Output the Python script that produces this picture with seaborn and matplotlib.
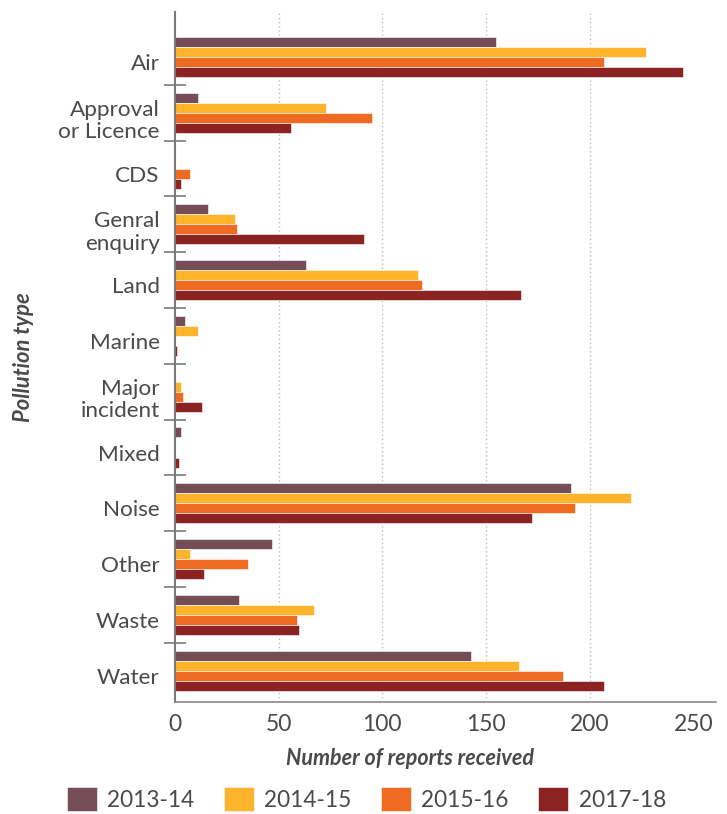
import numpy as np
import pandas as pd
import matplotlib
matplotlib.use("Agg")
import matplotlib.pyplot as plt
from matplotlib.ticker import FixedLocator
import matplotlib.transforms as mtransforms
import seaborn as sns

categories = ["Air", "Approval\nor Licence", "CDS", "Genral\nenquiry", "Land", "Marine",
              "Major\nincident", "Mixed", "Noise", "Other", "Waste", "Water"]
years = ["2013-14", "2014-15", "2015-16", "2017-18"]
v_2013_14 = [155, 11, 0, 16, 63, 5, 0, 3, 191, 47, 31, 143]
v_2014_15 = [227, 73, 0, 29, 117, 11, 3, 0, 220, 7, 67, 166]
v_2015_16 = [207, 95, 7, 30, 119, 0, 4, 0, 193, 35, 59, 187]
v_2017_18 = [245, 56, 3, 91, 167, 1, 13, 2, 172, 14, 60, 207]
x_ticks = [0, 50, 100, 150, 200, 250]

colors = ["#744D56", "#FDB42A", "#EF6B22", "#8C2323"]
text_col = "#4a4a4a"

series = [v_2013_14, v_2014_15, v_2015_16, v_2017_18]
df = pd.DataFrame({
    "type": np.tile(categories, len(years)),
    "year": np.repeat(years, len(categories)),
    "count": np.concatenate(series),
})

sns.set_theme(style="white")
plt.rcParams["font.family"] = ["Lato", "DejaVu Sans"]

fig = plt.figure(figsize=(7.27, 8.14), dpi=100)
ax = fig.add_axes([0.2407, 0.1376, 0.7443, 0.848])

sns.barplot(data=df, y="type", x="count", hue="year", order=categories,
            hue_order=years, palette=colors, orient="h", width=0.72,
            saturation=1, ax=ax, legend=True)
for p in ax.patches:
    p.set_edgecolor("white")
    p.set_linewidth(0.4)

ax.set_xlim(0, 261)
ax.set_ylim(len(categories) - 0.44, -0.81)
ax.set_xticks(x_ticks)
ax.set_xticklabels([str(t) for t in x_ticks])

ax.grid(axis="x", linestyle=(0, (1, 2)), color="#bbbbbb", linewidth=1.0)
ax.grid(axis="y", visible=False)
ax.set_axisbelow(True)
ax.xaxis.get_gridlines()[0].set_visible(False)
ax.xaxis.get_gridlines()[-1].set_visible(False)

for side in ["top", "right"]:
    ax.spines[side].set_visible(False)
ax.spines["left"].set_color("#7a7a7a")
ax.spines["left"].set_linewidth(1.5)
ax.spines["bottom"].set_color("#8a8a8a")
ax.spines["bottom"].set_linewidth(1.2)

ax.tick_params(axis="x", length=0, pad=9, labelsize=16.5, labelcolor=text_col)
ax.tick_params(axis="y", which="major", length=0, pad=11, labelsize=16.2,
               labelcolor=text_col)
ax.yaxis.set_minor_locator(FixedLocator(np.arange(0.5, len(categories) - 1, 1.0)))
ax.tick_params(axis="y", which="minor", direction="inout", length=16,
               width=1.2, color="#7a7a7a", left=True)
shift_down = mtransforms.ScaledTranslation(0, -5 / 100, fig.dpi_scale_trans)
for lbl in ax.get_yticklabels():
    lbl.set_linespacing(1.14)
    lbl.set_transform(lbl.get_transform() + shift_down)

ax.set_xlabel("Number of reports received", fontsize=15.5, fontweight="bold",
              fontstyle="italic", color=text_col)
ax.xaxis.set_label_coords(0.434, -0.066)
ax.set_ylabel("Pollution type", fontsize=15.8, fontweight="bold",
              fontstyle="italic", color=text_col)
ax.yaxis.set_label_coords(-0.261, 0.50)

handles, labels = ax.get_legend_handles_labels()
ax.get_legend().remove()
fig.legend(handles, labels, loc="center", bbox_to_anchor=(0.504, 0.018),
           ncol=4, frameon=False, fontsize=16.3, handlelength=1.33, handleheight=1.24,
           handletextpad=0.45, columnspacing=1.3, labelcolor=text_col,
           borderpad=0.1)

fig.savefig("out.png", dpi=100)
